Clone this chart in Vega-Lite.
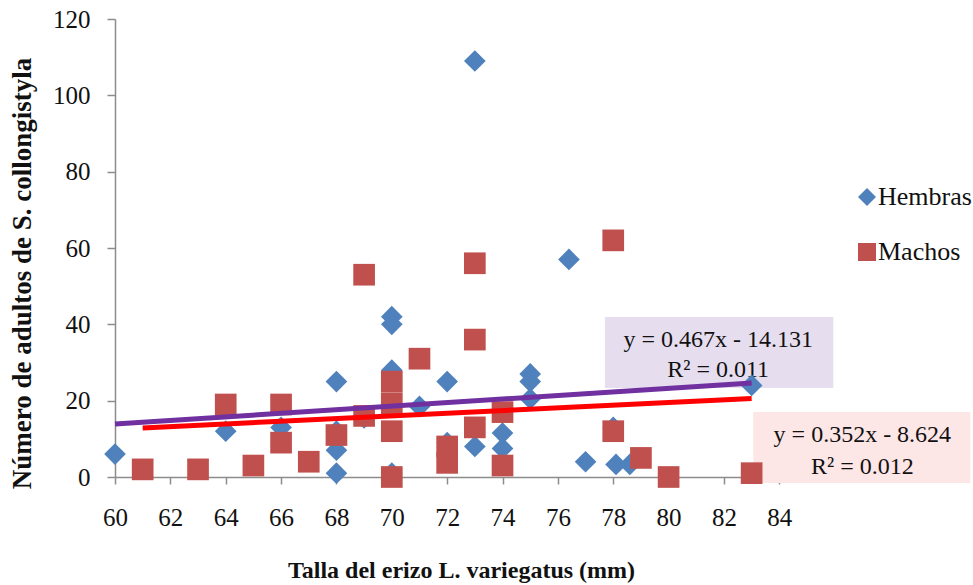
{
  "$schema": "https://vega.github.io/schema/vega-lite/v6.json",
  "autosize": "none",
  "width": 692,
  "height": 458,
  "padding": {"left": 115, "top": 19, "right": 166, "bottom": 108},
  "background": "white",
  "config": {
    "view": {"stroke": null},
    "font": "Liberation Serif",
    "axis": {"grid": false, "domainColor": "#8C8C8C", "domainWidth": 1.5, "tickColor": "#8C8C8C", "tickWidth": 1.5, "labelFont": "Liberation Serif", "labelFontSize": 25, "labelColor": "#111111", "titleFont": "Liberation Serif", "titleFontSize": 25, "titleFontWeight": "bold", "titleColor": "#111111", "labelFlush": false, "labelOverlap": false}
  },
  "datasets": {
    "points": [
      {"talla": 60, "n": 6, "sexo": "Hembras"},
      {"talla": 64, "n": 12, "sexo": "Hembras"},
      {"talla": 66, "n": 13, "sexo": "Hembras"},
      {"talla": 68, "n": 25, "sexo": "Hembras"},
      {"talla": 68, "n": 12, "sexo": "Hembras"},
      {"talla": 68, "n": 7, "sexo": "Hembras"},
      {"talla": 68, "n": 1, "sexo": "Hembras"},
      {"talla": 69, "n": 15.5, "sexo": "Hembras"},
      {"talla": 70, "n": 42, "sexo": "Hembras"},
      {"talla": 70, "n": 40, "sexo": "Hembras"},
      {"talla": 70, "n": 28, "sexo": "Hembras"},
      {"talla": 70, "n": 1, "sexo": "Hembras"},
      {"talla": 71, "n": 18.5, "sexo": "Hembras"},
      {"talla": 72, "n": 25, "sexo": "Hembras"},
      {"talla": 72, "n": 9, "sexo": "Hembras"},
      {"talla": 73, "n": 109, "sexo": "Hembras"},
      {"talla": 73, "n": 8, "sexo": "Hembras"},
      {"talla": 74, "n": 11.5, "sexo": "Hembras"},
      {"talla": 74, "n": 7.5, "sexo": "Hembras"},
      {"talla": 75, "n": 27, "sexo": "Hembras"},
      {"talla": 75, "n": 25, "sexo": "Hembras"},
      {"talla": 75, "n": 20.5, "sexo": "Hembras"},
      {"talla": 76.4, "n": 57, "sexo": "Hembras"},
      {"talla": 77, "n": 4, "sexo": "Hembras"},
      {"talla": 78, "n": 13, "sexo": "Hembras"},
      {"talla": 78.1, "n": 3.3, "sexo": "Hembras"},
      {"talla": 78.6, "n": 3.3, "sexo": "Hembras"},
      {"talla": 83, "n": 24, "sexo": "Hembras"},
      {"talla": 61, "n": 2, "sexo": "Machos"},
      {"talla": 63, "n": 2, "sexo": "Machos"},
      {"talla": 64, "n": 19, "sexo": "Machos"},
      {"talla": 65, "n": 3, "sexo": "Machos"},
      {"talla": 66, "n": 19, "sexo": "Machos"},
      {"talla": 66, "n": 9, "sexo": "Machos"},
      {"talla": 67, "n": 4, "sexo": "Machos"},
      {"talla": 68, "n": 11, "sexo": "Machos"},
      {"talla": 69, "n": 53, "sexo": "Machos"},
      {"talla": 69, "n": 16, "sexo": "Machos"},
      {"talla": 70, "n": 25, "sexo": "Machos"},
      {"talla": 70, "n": 19.3, "sexo": "Machos"},
      {"talla": 70, "n": 12, "sexo": "Machos"},
      {"talla": 70, "n": 0, "sexo": "Machos"},
      {"talla": 71, "n": 31, "sexo": "Machos"},
      {"talla": 72, "n": 8, "sexo": "Machos"},
      {"talla": 72, "n": 3.7, "sexo": "Machos"},
      {"talla": 73, "n": 56, "sexo": "Machos"},
      {"talla": 73, "n": 36, "sexo": "Machos"},
      {"talla": 73, "n": 13, "sexo": "Machos"},
      {"talla": 74, "n": 17, "sexo": "Machos"},
      {"talla": 74, "n": 3, "sexo": "Machos"},
      {"talla": 78, "n": 62, "sexo": "Machos"},
      {"talla": 78, "n": 12, "sexo": "Machos"},
      {"talla": 79, "n": 5, "sexo": "Machos"},
      {"talla": 80, "n": 0, "sexo": "Machos"},
      {"talla": 83, "n": 1, "sexo": "Machos"}
    ],
    "trendH": [
      {"talla": 60, "n": 13.889},
      {"talla": 83, "n": 24.63}
    ],
    "trendM": [
      {"talla": 61, "n": 12.848},
      {"talla": 83, "n": 20.592}
    ],
    "boxH": [{"x1": 77.7, "x2": 85.95, "y1": 23.3, "y2": 41.9}],
    "boxM": [{"x1": 83.06, "x2": 90.9, "y1": -1.6, "y2": 17.0}],
    "labels": [
      {"x": 81.79, "y": 35.9, "t": "y = 0.467x - 14.131"},
      {"x": 81.79, "y": 28.0, "t": "R² = 0.011"},
      {"x": 87.0, "y": 11.0, "t": "y = 0.352x - 8.624"},
      {"x": 87.0, "y": 2.6, "t": "R² = 0.012"}
    ]
  },
  "layer": [
    {
      "data": {"name": "boxH"},
      "mark": {"type": "rect", "color": "#E6DEEF"},
      "encoding": {
        "x": {"field": "x1", "type": "quantitative", "scale": {"domain": [60, 85], "nice": false, "zero": false}},
        "x2": {"field": "x2"},
        "y": {"field": "y1", "type": "quantitative", "scale": {"domain": [0, 120], "nice": false}},
        "y2": {"field": "y2"}
      }
    },
    {
      "data": {"name": "boxM"},
      "mark": {"type": "rect", "color": "#FDE6E6"},
      "encoding": {
        "x": {"field": "x1", "type": "quantitative"},
        "x2": {"field": "x2"},
        "y": {"field": "y1", "type": "quantitative"},
        "y2": {"field": "y2"}
      }
    },
    {
      "data": {"name": "labels"},
      "mark": {"type": "text", "font": "Liberation Serif", "fontSize": 24, "color": "#111111", "align": "center", "baseline": "middle"},
      "encoding": {
        "x": {"field": "x", "type": "quantitative"},
        "y": {"field": "y", "type": "quantitative"},
        "text": {"field": "t"}
      }
    },
    {
      "data": {"name": "points"},
      "mark": {"type": "point", "filled": true, "opacity": 1, "size": 470},
      "encoding": {
        "x": {"field": "talla", "type": "quantitative", "title": "Talla del erizo L. variegatus (mm)",
          "axis": {"values": [60, 62, 64, 66, 68, 70, 72, 74, 76, 78, 80, 82, 84], "tickSize": 7, "labelPadding": 21, "titlePadding": 28, "titleFontSize": 24}},
        "y": {"field": "n", "type": "quantitative", "title": "Número de adultos de S. collongistyla",
          "axis": {"values": [0, 20, 40, 60, 80, 100, 120], "tickSize": 8, "labelPadding": 17, "titlePadding": 16, "titleFontSize": 27, "titleY": 254}},
        "color": {"field": "sexo", "type": "nominal", "scale": {"domain": ["Hembras", "Machos"], "range": ["#4F81BD", "#C0504D"]},
          "legend": {"title": null, "orient": "none", "legendX": 739, "legendY": 165, "padding": 0, "symbolSize": 324, "labelFontSize": 26, "labelFont": "Liberation Serif", "labelColor": "#111111", "labelOffset": -2, "rowPadding": 29}},
        "shape": {"field": "sexo", "type": "nominal", "scale": {"domain": ["Hembras", "Machos"], "range": ["diamond", "square"]},
          "legend": {"title": null, "orient": "none", "legendX": 739, "legendY": 165, "padding": 0, "symbolSize": 324, "labelFontSize": 26, "labelFont": "Liberation Serif", "labelColor": "#111111", "labelOffset": -2, "rowPadding": 29}}
      }
    },
    {
      "data": {"name": "trendH"},
      "mark": {"type": "line", "strokeWidth": 5, "color": "#7030A0"},
      "encoding": {
        "x": {"field": "talla", "type": "quantitative"},
        "y": {"field": "n", "type": "quantitative"}
      }
    },
    {
      "data": {"name": "trendM"},
      "mark": {"type": "line", "strokeWidth": 5, "color": "#FF0000"},
      "encoding": {
        "x": {"field": "talla", "type": "quantitative"},
        "y": {"field": "n", "type": "quantitative"}
      }
    }
  ]
}
